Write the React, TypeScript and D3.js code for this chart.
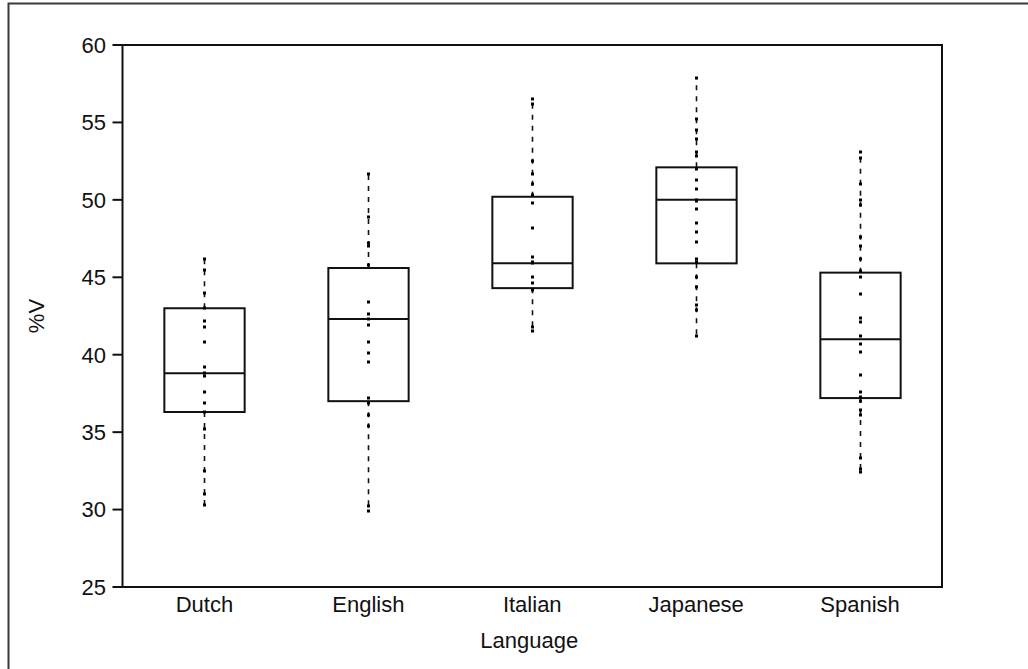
import React from "react";
import * as d3 from "d3";

// Languages along the x axis
const categories = ["Dutch", "English", "Italian", "Japanese", "Spanish"];

// Individual %V observations per language
const dutchValues = [46.2, 45.5, 44.0, 43.0, 42.2, 41.8, 40.8, 39.2, 38.8, 38.6, 37.6, 36.9, 36.3, 35.2, 32.5, 31.0, 30.3];
const englishValues = [51.7, 48.9, 47.2, 47.0, 45.8, 43.4, 42.6, 42.3, 41.9, 40.8, 40.1, 39.5, 37.2, 36.9, 36.1, 35.4, 30.2, 29.9];
const italianValues = [56.5, 56.2, 52.5, 51.7, 51.0, 50.3, 49.8, 48.2, 46.3, 46.0, 45.9, 45.0, 44.6, 44.2, 41.8, 41.5];
const japaneseValues = [57.9, 55.2, 54.5, 53.9, 53.1, 52.8, 52.0, 51.3, 50.7, 50.0, 49.9, 49.4, 48.5, 47.9, 47.3, 46.2, 46.0, 45.0, 44.4, 43.2, 42.9, 41.2];
const spanishValues = [53.1, 52.7, 51.0, 50.0, 49.7, 47.6, 47.0, 46.2, 45.4, 45.0, 43.9, 42.4, 42.1, 41.2, 40.7, 40.2, 38.7, 37.6, 37.3, 37.0, 36.4, 36.1, 33.3, 32.6, 32.4];

// Box summary per language (same order as categories)
const q1Values = [36.3, 37.0, 44.3, 45.9, 37.2];
const medianValues = [38.8, 42.3, 45.9, 50.0, 41.0];
const q3Values = [43.0, 45.6, 50.2, 52.1, 45.3];

const yTicks = [25, 30, 35, 40, 45, 50, 55, 60];

const pointSets = [dutchValues, englishValues, italianValues, japaneseValues, spanishValues];

const WIDTH = 1028;
const HEIGHT = 669;
const plot = { left: 122.5, right: 942, top: 45, bottom: 587 };
const FONT = "'Liberation Sans', Arial, sans-serif";
const INK = "#111";

export default function App() {
  const x = d3.scaleBand<string>().domain(categories).range([plot.left, plot.right]).padding(0);
  const y = d3.scaleLinear().domain([25, 60]).range([plot.bottom, plot.top]);
  const boxW = x.bandwidth() * 0.49;

  return (
    <svg
      width={WIDTH}
      height={HEIGHT}
      style={{ position: "absolute", left: 0, top: 0, background: "#fff" }}
      fontFamily={FONT}
    >
      {/* outer frame */}
      <rect x={8.5} y={3.5} width={1040} height={700} fill="none" stroke="#3a3a3a" strokeWidth={2} />

      {/* plot frame */}
      <rect
        x={plot.left}
        y={plot.top}
        width={plot.right - plot.left}
        height={plot.bottom - plot.top}
        fill="none"
        stroke={INK}
        strokeWidth={2}
      />

      {/* y axis ticks and labels */}
      {yTicks.map((t) => (
        <g key={t}>
          <line x1={plot.left - 10} x2={plot.left} y1={y(t)} y2={y(t)} stroke={INK} strokeWidth={2} />
          <text x={106} y={y(t)} dy="0.36em" textAnchor="end" fontSize={22} fill={INK}>
            {t}
          </text>
        </g>
      ))}

      {/* y axis title */}
      <text
        transform={`translate(44,${(plot.top + plot.bottom) / 2}) rotate(-90)`}
        textAnchor="middle"
        fontSize={22}
        fill={INK}
      >
        %V
      </text>

      {/* category labels */}
      {categories.map((c) => (
        <text key={c} x={(x(c) as number) + x.bandwidth() / 2} y={612} textAnchor="middle" fontSize={22} fill={INK}>
          {c}
        </text>
      ))}

      {/* x axis title */}
      <text x={(plot.left + plot.right) / 2 - 3} y={648} textAnchor="middle" fontSize={22} fill={INK}>
        Language
      </text>

      {/* boxes, whiskers and observations */}
      {categories.map((c, i) => {
        const cx = Math.round((x(c) as number) + x.bandwidth() / 2) + 0.5;
        const pts = pointSets[i];
        const lo = d3.min(pts) as number;
        const hi = d3.max(pts) as number;
        return (
          <g key={c}>
            <line x1={cx} x2={cx} y1={y(q3Values[i])} y2={y(hi)} stroke={INK} strokeWidth={1.6} strokeDasharray="5 6" />
            <line x1={cx} x2={cx} y1={y(q1Values[i])} y2={y(lo)} stroke={INK} strokeWidth={1.6} strokeDasharray="5 6" />
            <rect
              x={cx - boxW / 2}
              y={y(q3Values[i])}
              width={boxW}
              height={y(q1Values[i]) - y(q3Values[i])}
              fill="none"
              stroke={INK}
              strokeWidth={2}
            />
            <line
              x1={cx - boxW / 2}
              x2={cx + boxW / 2}
              y1={y(medianValues[i])}
              y2={y(medianValues[i])}
              stroke={INK}
              strokeWidth={2}
            />
            {pts.map((v, j) => (
              <rect key={j} x={cx - 1.5} y={Math.round(y(v)) - 1.5} width={3} height={3} fill="#000" />
            ))}
          </g>
        );
      })}
    </svg>
  );
}
